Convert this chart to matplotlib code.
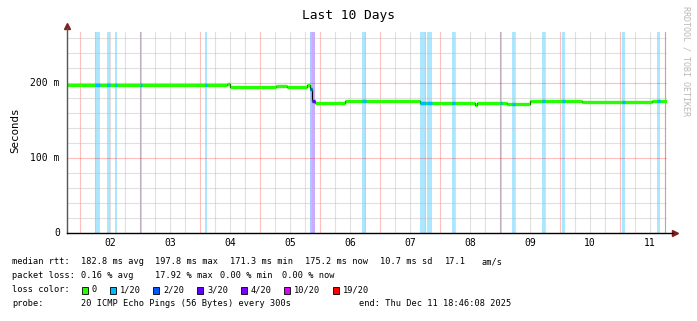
import numpy as np
import matplotlib
matplotlib.use("Agg")
import matplotlib.pyplot as plt
from matplotlib.patches import Rectangle

# median rtt, step segments (x in days of December, y in ms)
seg_start = [1.782, 4.449, 4.499, 5.265, 5.449, 5.782, 5.832, 5.865, 5.915, 6.415,
             7.665, 7.715, 8.582, 8.615, 9.115, 9.499, 10.365, 11.532]
seg_rtt = [196.8, 198.7, 194.5, 196.4, 194.5, 197.0, 192.0, 175.5, 174.0, 175.6,
           173.2, 173.0, 170.8, 173.0, 171.6, 176.2, 174.2, 175.8]
t_end = 11.782

# packet loss periods
loss_start = [2.254, 2.449, 2.582, 3.000, 4.082, 5.832, 5.865, 6.699, 7.665, 7.782,
              8.199, 9.000, 9.199, 9.699, 10.032, 11.032, 11.615]
loss_end = [2.332, 2.499, 2.615, 3.027, 4.115, 5.865, 5.915, 6.765, 7.765, 7.865,
            8.249, 9.027, 9.249, 9.749, 10.082, 11.082, 11.665]
loss_level = [1, 1, 1, 1, 1, 2, 3, 1, 1, 1, 1, 1, 1, 1, 1, 1, 1]

loss_labels = ["0", "1/20", "2/20", "3/20", "4/20", "10/20", "19/20"]
loss_colors = ["#26ff00", "#00b8ff", "#0059ff", "#5e00ff", "#7e00ff", "#dd00ff", "#ff0000"]

day_labels = ["02", "03", "04", "05", "06", "07", "08", "09", "10", "11"]

W, H = 697, 321
mono = "DejaVu Sans Mono"

fig = plt.figure(figsize=(W / 100, H / 100), dpi=100)
ax = fig.add_axes([67 / W, (H - 233) / H, 600 / W, 201 / H])
ax.set_xlim(seg_start[0], t_end)
ax.set_ylim(0, 268)
for s in ax.spines.values():
    s.set_visible(False)
ax.set_xticks([])
ax.set_yticks([])

# loss bars
for a, b, lv in zip(loss_start, loss_end, loss_level):
    ax.axvspan(a, b, color=loss_colors[lv], alpha=0.33, lw=0, zorder=1)

# grid
for x in np.arange(2, 12, 0.25):
    if abs(x - round(x)) < 1e-6:
        ax.axvline(x, color="#ff0000", alpha=0.25, lw=0.8, zorder=2)
    else:
        ax.axvline(x, color="#bbbbbb", alpha=0.45, lw=0.8, zorder=2)
ax.axvline(11.75, color="#ff0000", alpha=0.35, lw=0.8, zorder=2)
for y in range(20, 268, 20):
    if y % 100 == 0:
        ax.axhline(y, color="#ff0000", alpha=0.25, lw=0.8, zorder=2)
    else:
        ax.axhline(y, color="#bbbbbb", alpha=0.45, lw=0.8, zorder=2)

# median line
edges = seg_start + [t_end]
ax.step(edges, seg_rtt + [seg_rtt[-1]], where="post", color="black", lw=0.9, zorder=3)
ax.hlines(seg_rtt, seg_start, edges[1:], color=loss_colors[0], lw=2.4, zorder=4)
for a, b, lv in zip(loss_start, loss_end, loss_level):
    mid = (a + b) / 2
    i = np.searchsorted(seg_start, mid, side="right") - 1
    ax.hlines(seg_rtt[i], a, b, color=loss_colors[lv], lw=2.4, zorder=5)

# axes with arrows
ax.plot([0, 0], [0, 1.02], transform=ax.transAxes, color="#555555", lw=1, clip_on=False, zorder=6)
ax.plot([0, 1.01], [0, 0], transform=ax.transAxes, color="black", lw=1, clip_on=False, zorder=6)
ax.plot([0], [1.03], transform=ax.transAxes, marker="^", color="#802020", ms=4, clip_on=False)
ax.plot([1.013], [0], transform=ax.transAxes, marker=">", color="#802020", ms=4, clip_on=False)

# tick labels
for v, lab in zip([0, 100, 200], ["0", "100 m", "200 m"]):
    ax.text(-0.012, v, lab, transform=ax.get_yaxis_transform(), ha="right", va="center",
            family=mono, fontsize=7)
for d, lab in zip(range(2, 12), day_labels):
    ax.text(d + 0.5, -0.025, lab, transform=ax.get_xaxis_transform(), ha="center", va="top",
            family=mono, fontsize=7)

fig.text(15 / W, 1 - 130 / H, "Seconds", rotation=90, ha="center", va="center", family=mono, fontsize=7.8)
fig.text(349 / W, 1 - 16 / H, "Last 10 Days", ha="center", va="center", family=mono, fontsize=9.3)
fig.text(686 / W, 1 - 6 / H, "RRDTOOL / TOBI OETIKER", rotation=-90, ha="center", va="top",
         family=mono, fontsize=6, color="#b8b8b8")


def put(x, y, s):
    fig.text(x / W, 1 - y / H, s, ha="left", va="center", family=mono, fontsize=6.2)


r1, r2, r3, r4 = 262, 276, 290, 304
put(12, r1, "median rtt:")
put(80.7, r1, "182.8 ms avg")
put(155, r1, "197.8 ms max")
put(230, r1, "171.3 ms min")
put(305, r1, "175.2 ms now")
put(380, r1, "10.7 ms sd")
put(445, r1, "17.1")
put(482, r1, "am/s")
put(12, r2, "packet loss:")
put(80.7, r2, "0.16 % avg")
put(155, r2, "17.92 % max")
put(220, r2, "0.00 % min")
put(282, r2, "0.00 % now")
put(12, r3, "loss color:")
box_x = [82, 110, 153, 197, 241, 284, 333]
for bx, lab, col in zip(box_x, loss_labels, loss_colors):
    fig.add_artist(Rectangle((bx / W, 1 - (r3 + 3.5) / H), 6 / W, 7 / H, transform=fig.transFigure,
                             facecolor=col, edgecolor="black", lw=0.6))
    put(bx + 10, r3, lab)
put(12, r4, "probe:")
put(80.7, r4, "20 ICMP Echo Pings (56 Bytes) every 300s")
put(359, r4, "end: Thu Dec 11 18:46:08 2025")

fig.savefig("out.png", dpi=100)
